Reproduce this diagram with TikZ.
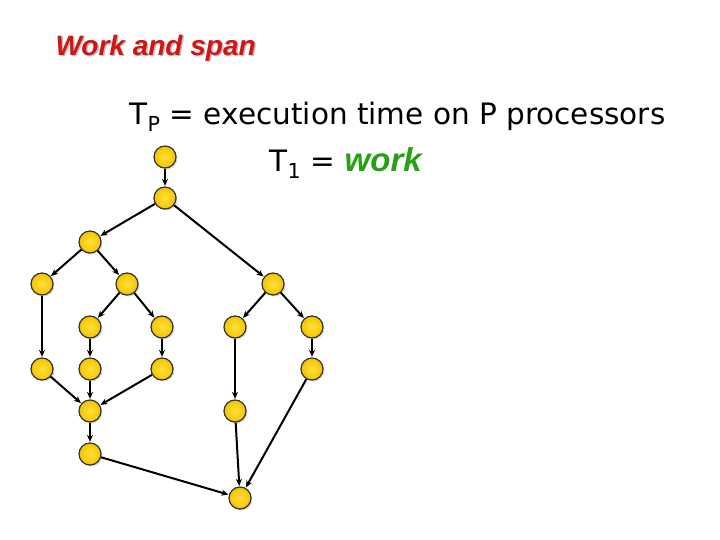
\documentclass[tikz,border=0pt]{standalone}
\usepackage{fontspec}
\setmainfont{DejaVu Sans}
\newfontfamily\arialf{Liberation Sans}
\usetikzlibrary{arrows.meta,shadows}
\definecolor{nodey}{RGB}{245,195,0}
\definecolor{nodel}{RGB}{255,225,60}
\definecolor{titred}{RGB}{210,20,20}
\definecolor{wgreen}{RGB}{40,160,20}
\begin{document}
\begin{tikzpicture}[x=1pt,y=-1pt,
  v/.style={circle,draw=black!80,line width=1.2pt,inner sep=0pt,minimum size=22pt,
    inner color=nodel,outer color=nodey,drop shadow={shadow xshift=1.5pt,shadow yshift=-1.5pt,opacity=0.3}},
  e/.style={-{Stealth[length=7pt,width=6pt]},line width=2pt,shorten >=0.5pt}]
\useasboundingbox (0,0) rectangle (720,540);
\node[anchor=west,font=\arialf\bfseries\itshape\fontsize{28}{30}\selectfont,text=gray!50] (t0) at (53.5,49.5) {Work and span};
\node[anchor=west,font=\arialf\bfseries\itshape\fontsize{28}{30}\selectfont,text=titred] (t) at (52,48) {Work and span};
\node[anchor=west,font=\fontsize{29.5}{34}\selectfont] (l1) at (126,117) {T\textsubscript{P} = execution time on P processors};
\node[anchor=west,font=\fontsize{29.5}{34}\selectfont] (l2) at (266,163) {T\textsubscript{1} = {\arialf\bfseries\itshape\fontsize{33}{36}\selectfont\color{wgreen}work}};
\foreach \n/\x/\y in {1/165/157,2/165/198,3/90/242,4/42/284,5/127/284,6/273/284,7/90/327,8/162/327,9/235/327,10/312/327,11/42/369,12/90/369,13/162/369,14/312/369,15/90/411,16/235/411,17/90/454,18/240/498}
  \node[v] (n\n) at (\x,\y) {};
\foreach \a/\b in {1/2,2/3,2/6,3/4,3/5,4/11,5/7,5/8,6/9,6/10,7/12,8/13,10/14,11/15,12/15,13/15,15/17,9/16,17/18,16/18,14/18}
  \draw[e] (n\a) -- (n\b);
\end{tikzpicture}
\end{document}
